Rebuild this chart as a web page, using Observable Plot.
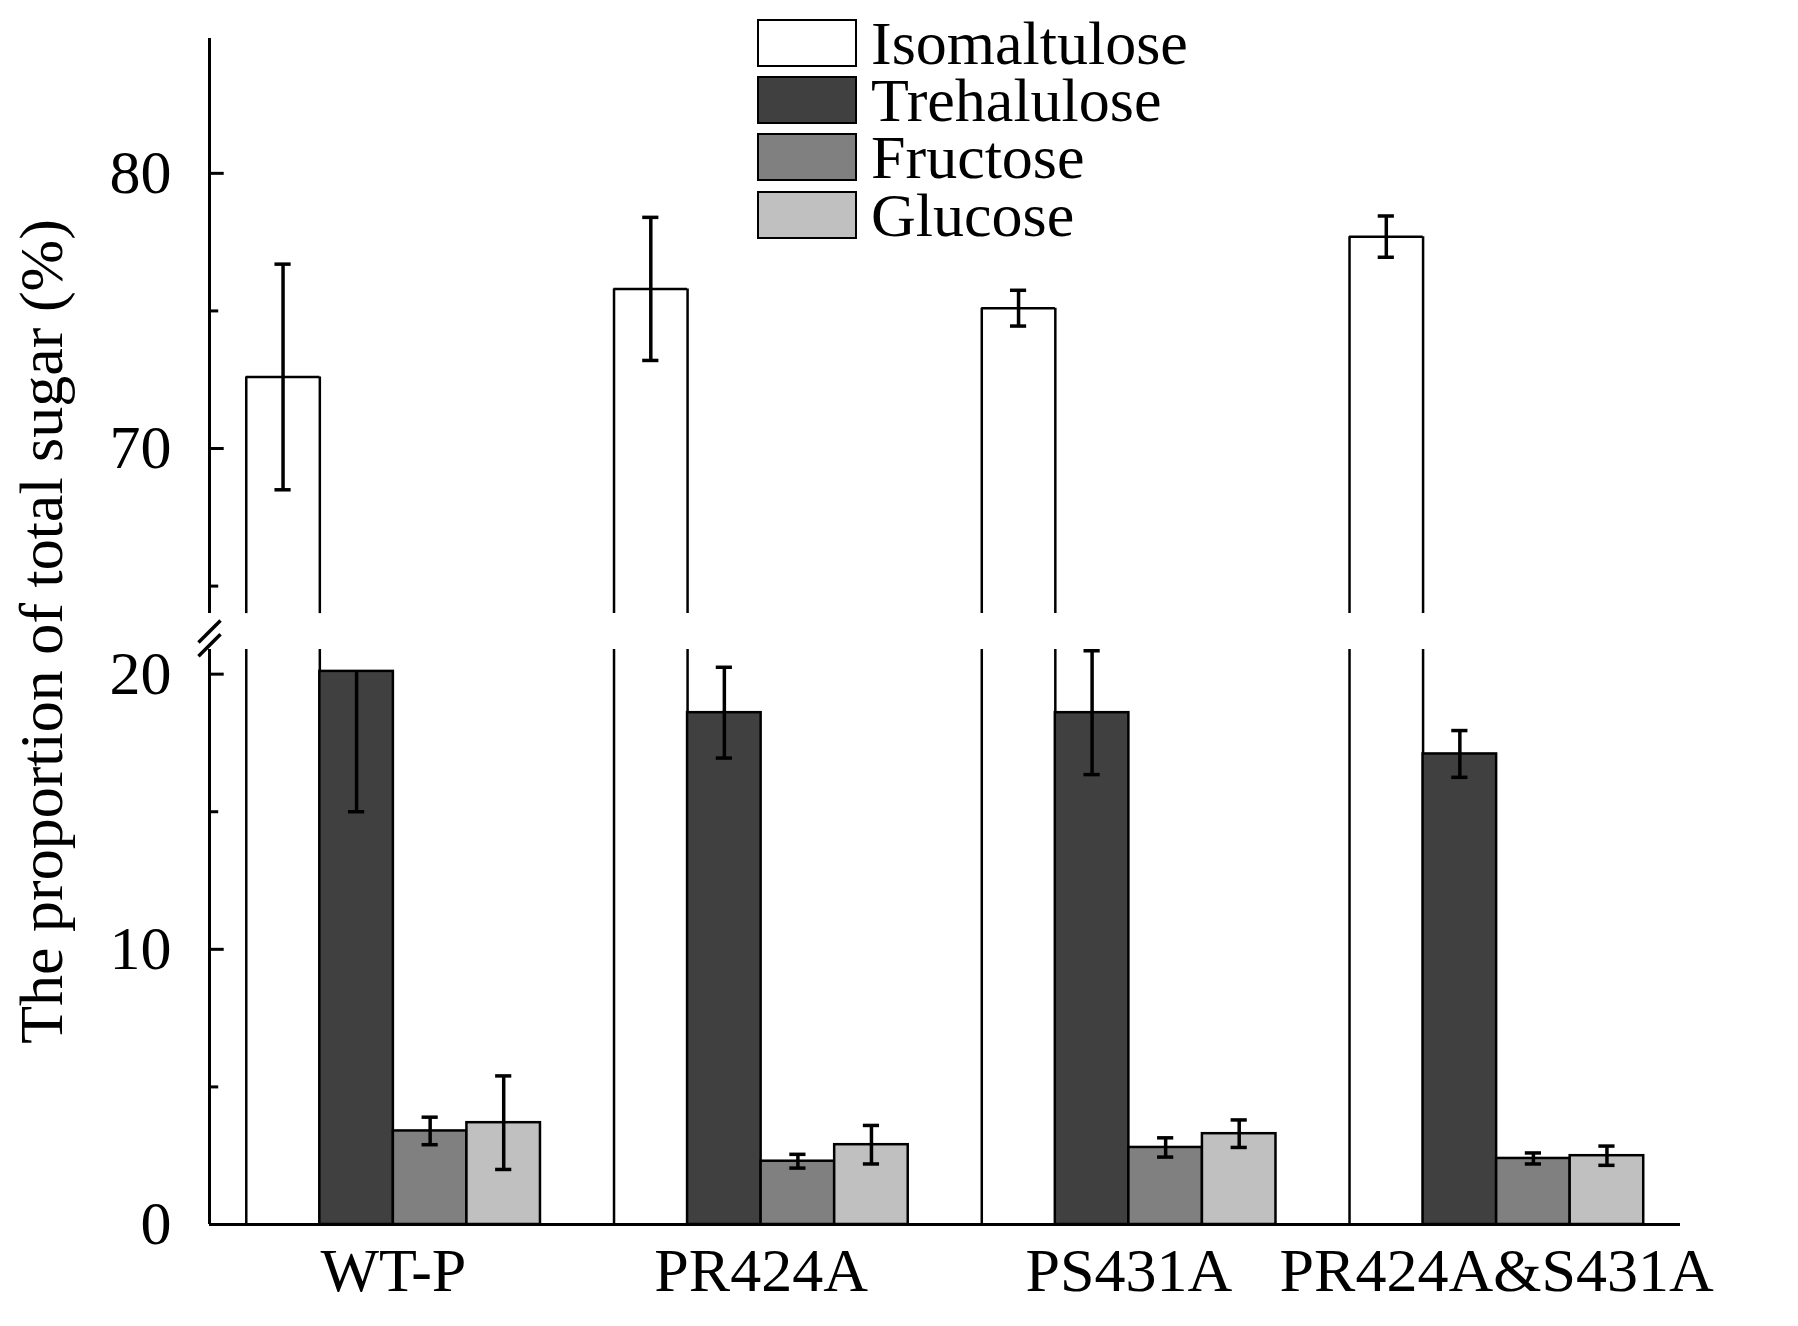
<!DOCTYPE html>
<html><head><meta charset="utf-8">
<script src="https://cdn.jsdelivr.net/npm/d3@7"></script>
<script src="https://cdn.jsdelivr.net/npm/@observablehq/plot@0.6"></script>
<style>
body{margin:0;background:#fff;font-family:"Liberation Serif","Times New Roman",serif;}
#wrap{position:relative;width:1798px;height:1326px;}
.leg{position:absolute;left:757px;display:flex;align-items:center;font-size:62px;line-height:1;}
.leg span.box{display:inline-block;width:100px;height:48px;border:2.5px solid #000;margin-right:14px;box-sizing:border-box;}
</style></head><body>
<div id="wrap"></div>
<script>
const groups = ["WT-P","PR424A","PS431A","PR424A&S431A"];
const sugars = ["Isomaltulose","Trehalulose","Fructose","Glucose"];
const colors = ["#ffffff","#404040","#808080","#c0c0c0"];
const isomaltulose = [72.6, 75.8, 75.1, 77.7];
const trehalulose  = [20.1, 18.6, 18.6, 17.1];
const fructose     = [3.4, 2.3, 2.8, 2.4];
const glucose      = [3.7, 2.9, 3.3, 2.5];
const errDown = [[4.1,2.6,0.65,0.75],[5.1,1.65,2.25,0.85],[0.5,0.25,0.35,0.2],[1.7,0.7,0.5,0.35]];
const errUp   = [[4.1,2.6,0.65,0.75],[0,1.65,2.25,0.85],[0.5,0.25,0.35,0.2],[1.7,0.7,0.5,0.35]];
const yTicksMajor = [0,10,20,70,80];
const yTicksMinor = [5,15,65,75];

const breakLow = 20.9, breakHigh = 64.0, offset = 41.8;
const T = v => v <= breakLow + 1 ? v : v - offset;
const tLowTop = breakLow, tHighBottom = breakHigh - offset;

const values = [isomaltulose, trehalulose, fructose, glucose];
const bw = 0.2;
const bars = [], broken = [], errs = [];
groups.forEach((g,gi)=>sugars.forEach((s,si)=>{
  const v = values[si][gi];
  const x1 = gi - 2*bw + si*bw, x2 = x1 + bw, xc = x1 + bw/2;
  if (v > 40) {
    broken.push({x1,x2,y1:0,y2:tLowTop,s,top:false});
    broken.push({x1,x2,y1:tHighBottom,y2:T(v),s,top:true});
  } else bars.push({x1,x2,y1:0,y2:v,s});
  errs.push({xc, lo:T(v-errDown[si][gi]), hi:T(v+errUp[si][gi]), capLo: errDown[si][gi]>0, capHi: errUp[si][gi]>0});
}));
const capW = 0.022;
const axisSegs = [{y1:0,y2:tLowTop},{y1:tHighBottom,y2:T(84.9)}];
const slashes = [{y:tLowTop+0.1},{y:tHighBottom-0.7}];

const plot = Plot.plot({
  width:1798, height:1326,
  marginLeft:209, marginRight:118, marginTop:38, marginBottom:102,
  style:{fontFamily:"Liberation Serif, Times New Roman, serif", fontSize:"62px", color:"#000", background:"#fff"},
  x:{domain:[-0.5,3.5]},
  y:{domain:[0,T(84.9)]},
  color:{domain:sugars, range:colors},
  marks:[
    Plot.rect(broken,{x1:"x1",x2:"x2",y1:"y1",y2:"y2",fill:"s"}),
    Plot.ruleX(broken,{x:"x1",y1:"y1",y2:"y2",strokeWidth:2.5}),
    Plot.ruleX(broken,{x:"x2",y1:"y1",y2:"y2",strokeWidth:2.5}),
    Plot.ruleY(broken.filter(d=>d.top),{y:"y2",x1:"x1",x2:"x2",strokeWidth:2.5}),
    Plot.rect(bars,{x1:"x1",x2:"x2",y1:"y1",y2:"y2",fill:"s",stroke:"#000",strokeWidth:2.5}),
    Plot.ruleX(errs,{x:"xc",y1:"lo",y2:"hi",stroke:"#000",strokeWidth:3.5}),
    Plot.ruleY(errs.filter(d=>d.capLo),{y:"lo",x1:d=>d.xc-capW,x2:d=>d.xc+capW,strokeWidth:3.5}),
    Plot.ruleY(errs.filter(d=>d.capHi),{y:"hi",x1:d=>d.xc-capW,x2:d=>d.xc+capW,strokeWidth:3.5}),
    Plot.ruleX(axisSegs,{x:-0.5,y1:"y1",y2:"y2",strokeWidth:3}),
    Plot.ruleY([0],{x1:-0.5,x2:3.5,strokeWidth:3}),
    Plot.ruleY(yTicksMajor.map(T),{x1:-0.5,x2:-0.46,strokeWidth:3}),
    Plot.ruleY(yTicksMinor.map(T),{x1:-0.5,x2:-0.475,strokeWidth:3}),
    Plot.link(slashes,{x1:-0.53,x2:-0.47,y1:d=>d.y-0.35,y2:d=>d.y+0.45,strokeWidth:3.5}),
    Plot.axisY({ticks:yTicksMajor.map(T), tickFormat:t=>String(t>breakLow+0.5?Math.round(t+offset):Math.round(t)), tickSize:0, tickPadding:38, label:"The proportion of total sugar (%)", labelAnchor:"center", labelArrow:"none", labelOffset:192}),
    Plot.axisX({ticks:[0,1,2,3], tickFormat:i=>groups[i], tickSize:0, tickPadding:22, label:null})
  ]
});
const wrap = document.getElementById("wrap");
wrap.appendChild(plot);
const tops=[12,69,126,184];
sugars.forEach((s,i)=>{
  const d=document.createElement("div");d.className="leg";d.style.top=tops[i]+"px";
  d.innerHTML=`<span class="box" style="background:${colors[i]}"></span>${s}`;
  wrap.appendChild(d);
});
</script></body></html>
